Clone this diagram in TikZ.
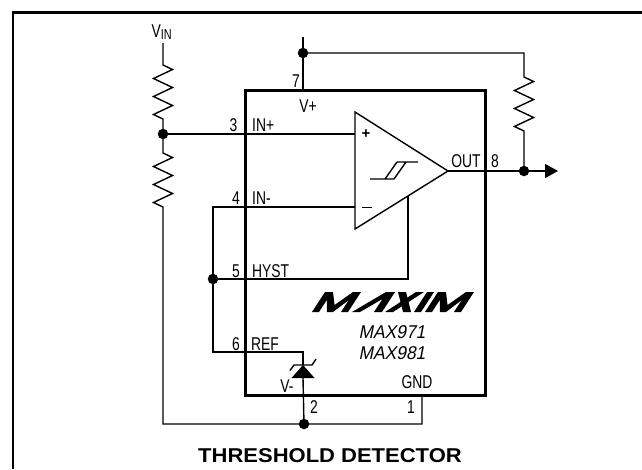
\documentclass[tikz,border=0pt]{standalone}
\usepackage{fontspec}
\setmainfont{Liberation Sans}
\newfontfamily\cond[FakeStretch=0.75]{Liberation Sans}
\newfontfamily\condit[FakeStretch=0.94,FakeSlant=0.2]{Liberation Sans}
\newfontfamily\wideb[FakeStretch=1.1]{Liberation Sans}
\usetikzlibrary{arrows.meta}
\begin{document}
\begin{tikzpicture}[x=1pt,y=-1pt,
  wire/.style={line width=1.4pt},
  chip/.style={line width=3pt},
  lbl/.style={inner sep=0pt, anchor=base, font=\fontsize{18.5}{20}\selectfont\cond},
  itl/.style={inner sep=0pt, anchor=base, font=\fontsize{18.5}{20}\selectfont\condit},
  dot/.style={circle, fill, inner sep=0pt, minimum size=10.5pt}
]
\useasboundingbox (0,0) rectangle (642,469);
% outer frame
\draw[line width=1.8pt] (13,469) -- (13,12);
\draw[line width=3pt] (12,12.5) -- (642,12.5);

% chip body
\draw[chip] (245,90.5) rectangle (485,395);

% comparator
\coordinate (ta) at (355,112);
\coordinate (tb) at (355,229);
\coordinate (tc) at (448,171);
\draw[wire, line join=miter] (ta) -- (tc) -- (tb) -- cycle;
% hysteresis symbol
\draw[wire] (370,179) -- (394,179) (385,179) -- (397,162) (394,179) -- (406,162) (397,162) -- (418,162);

% coordinates
\coordinate (vin) at (163,43);
\coordinate (r1t) at (163,65);
\node[dot] (j1) at (163,134) {};
\coordinate (r2t) at (163,153);
\coordinate (bl) at (163,424);
\node[dot] (j2) at (304,424) {};
\coordinate (br) at (422,424);
\coordinate (p1) at (422,395);
\coordinate (inp) at (355,134);
\coordinate (vtop) at (303,37);
\node[dot] (j3) at (303,53) {};
\coordinate (p7) at (303,90);
\coordinate (tr) at (524,53);
\coordinate (r3t) at (524,77);
\node[dot] (j4) at (524,171) {};
\coordinate (outend) at (558,171);
\coordinate (inm) at (355,207);
\coordinate (c4) at (213,207);
\node[dot] (j5) at (213,279) {};
\coordinate (c6) at (213,352);
\coordinate (dk) at (303,352);
\coordinate (da) at (303,365);
\coordinate (db) at (303,378);
\coordinate (hy) at (408,279);
\coordinate (hyt) at (408,196);

% input divider
\draw[wire] (vin) -- (r1t) -- ++(9.5,4.5) -- ++(-19,9) -- ++(19,9) -- ++(-19,9) -- ++(19,9) -- ++(-19,9) -- ++(9.5,4.5) -- (j1.center);
\draw[wire] (j1.center) -- (r2t) -- ++(9.5,4.5) -- ++(-19,9) -- ++(19,9) -- ++(-19,9) -- ++(19,9) -- ++(-19,9) -- ++(9.5,4.5) -- (bl) -- (j2.center) -- (br) -- (p1);
\draw[wire] (j1.center) -- (inp);

% supply and pull-up
\draw[wire] (vtop) -- (j3.center) -- (p7);
\draw[wire] (j3.center) -- (tr) -- (r3t) -- ++(9.5,4.5) -- ++(-19,9) -- ++(19,9) -- ++(-19,9) -- ++(19,9) -- ++(-19,9) -- ++(9.5,4.5) -- (j4.center);
\draw[wire] (tc) -- (j4.center);
\draw[wire, -{Triangle[length=13pt,width=14pt]}] (j4.center) -- (outend);

% inverting input, hysteresis, reference
\draw[wire] (inm) -- (c4) -- (j5.center) -- (c6) -- (dk) -- (da);
\draw[wire] (j5.center) -- (hy) -- (hyt);
% reference diode
\fill (da) -- (291.5,378) -- (314.5,378) -- cycle;
\draw[wire] (290,370.5) -- (294,365) -- (312,365) -- (316,359);
\draw[wire] (db) -- (j2.center);

% labels
\node[inner sep=0pt, anchor=base west, font=\fontsize{18.5}{20}\selectfont\cond] (vinl) at (151.5,37) {V\raisebox{-2.5pt}{\fontsize{14.5}{15}\selectfont IN}};
\node[lbl] (l7) at (296,87) {7};
\node[lbl] (lvp) at (308,112) {V+};
\node[lbl] (l3) at (233.5,131) {3};
\node[lbl, anchor=base west] (linp) at (252,131) {IN+};
\node[font=\bfseries\fontsize{15}{16}\selectfont, inner sep=0pt] (plus) at (366,134) {+};
\node[lbl] (lout) at (466,167) {OUT};
\node[lbl] (l8) at (495,167) {8};
\node[lbl] (l4) at (236,204) {4};
\node[lbl, anchor=base west] (linm) at (252,204) {IN-};
\draw[line width=1.4pt] (362,207.5) -- (372,207.5);
\node[lbl] (l5) at (236,277) {5};
\node[lbl, anchor=base west] (lhyst) at (252,277) {HYST};
\node[lbl] (l6) at (236,350) {6};
\node[lbl, anchor=base west] (lref) at (251,350) {REF};
\node[lbl] (lvm) at (287,392) {V-};
\node[lbl] (lgnd) at (417,388) {GND};
\node[lbl] (l2) at (314,413) {2};
\node[lbl] (l1) at (411,413) {1};
\node[itl] (m1) at (392,338) {MAX971};
\node[itl] (m2) at (392,359.5) {MAX981};

% logo
\begin{scope}[shift={(312,312)}, x={(1pt,0pt)}, y={(0.65pt,1pt)}]
  \fill (0,0) -- (7,0) -- (7,12) -- (15,0) -- (21,0) -- (29,12) -- (29,0) -- (36,0) -- (36,20) -- (28,20) -- (18,7) -- (8,20) -- (0,20) -- cycle;
  \fill[shift={(40,0)}] (0,0) -- (8,0) -- (22,13) -- (22,0) -- (30,0) -- (30,20) -- (21,20) -- cycle;
  \fill[shift={(73,0)}] (0,0) -- (8,0) -- (26,20) -- (18,20) -- cycle;
  \fill[shift={(73,0)}] (18,0) -- (26,0) -- (8,20) -- (0,20) -- cycle;
  \fill[shift={(102,0)}] (0,0) -- (7,0) -- (7,20) -- (0,20) -- cycle;
  \fill[shift={(113,0)}] (0,0) -- (7,0) -- (7,12) -- (15,0) -- (21,0) -- (29,12) -- (29,0) -- (36,0) -- (36,20) -- (28,20) -- (18,7) -- (8,20) -- (0,20) -- cycle;
\end{scope}

% title
\node[inner sep=0pt, anchor=base, font=\fontsize{20}{22}\selectfont\wideb\bfseries] (title) at (330,462) {THRESHOLD DETECTOR};
\end{tikzpicture}
\end{document}
